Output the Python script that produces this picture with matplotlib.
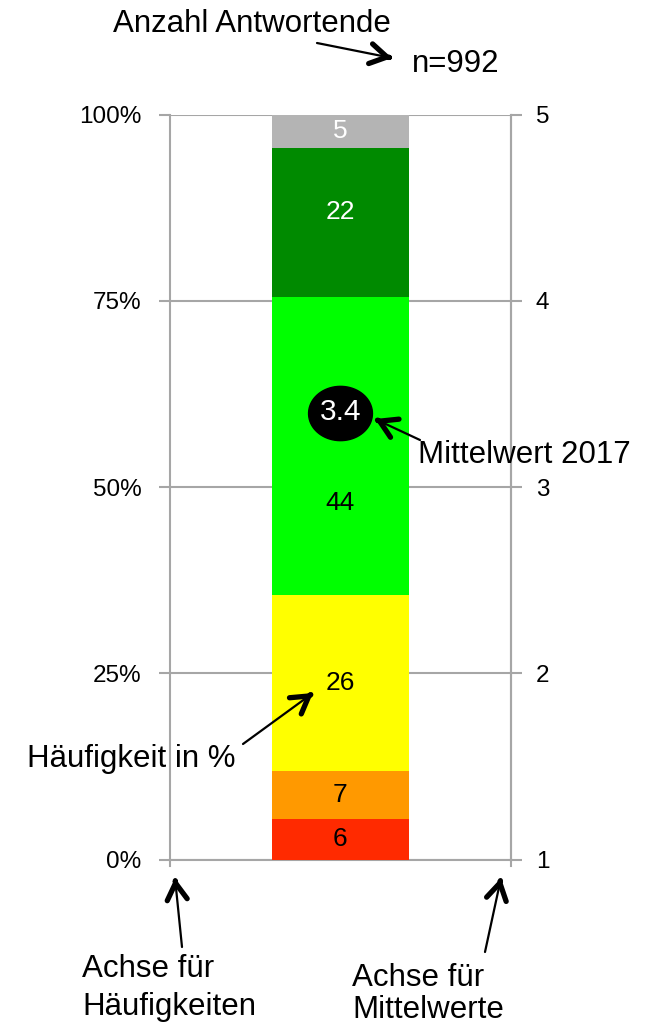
import numpy as np
import matplotlib
matplotlib.use("Agg")
import matplotlib.pyplot as plt
from matplotlib.path import Path
from matplotlib.patches import FancyArrowPatch

plt.rcParams["font.family"] = ["Liberation Sans", "DejaVu Sans"]

# data (labels as printed, bar height = share of their sum)
categories = ["1", "2", "3", "4", "5", "k.A."]
values = [6, 7, 26, 44, 22, 5]
colors = ["#FF2A00", "#FF9900", "#FFFF00", "#00FF00", "#008A00", "#B4B4B4"]
label_colors = ["black", "black", "black", "black", "white", "white"]
pct_ticks = [0, 25, 50, 75, 100]
pct_ticklabels = ["0%", "25%", "50%", "75%", "100%"]
mean_ticks = [1, 2, 3, 4, 5]
mean_value = 3.4
n_answers = 992

W, H = 652, 1024
GRID = "#A6A6A6"


def fxy(px, py):
    """pixel position (top-left origin) -> figure fraction"""
    return (px / W, 1 - py / H)


fig = plt.figure(figsize=(W / 100, H / 100), dpi=100)
ax = fig.add_axes([169.5 / W, 1 - 859.5 / H, (511 - 169.5) / W, (859.5 - 114.5) / H])

shares = np.array(values, dtype=float) / sum(values) * 100
bottoms = np.concatenate([[0], np.cumsum(shares)[:-1]])
ax.bar([0.5] * len(values), shares, bottom=bottoms, width=0.4,
       color=colors, zorder=3)

# Excel nudged a couple of labels away from the segment centre
nudge = {3: -7.6, 4: 1.45}
for i, (v, b, s) in enumerate(zip(values, bottoms, shares)):
    y = b + s / 2 + nudge.get(i, 0)
    ax.text(0.5, y, str(v), ha="center", va="center", fontsize=19,
            color=label_colors[i], zorder=5)

ax.set_xlim(0, 1)
ax.set_ylim(0, 100)
ax.set_yticks(pct_ticks)
ax.set_yticklabels(pct_ticklabels)
ax.set_xticks([])
ax.yaxis.grid(True, color=GRID, lw=1.5, zorder=0)
ax.set_axisbelow(True)
for side in ["left", "bottom", "right"]:
    ax.spines[side].set_color(GRID)
    ax.spines[side].set_linewidth(1.5)
ax.spines["top"].set_visible(False)
ax.tick_params(axis="y", length=8, width=1.5, color=GRID, labelsize=17.5, pad=12)

# small downward ticks at both ends of the category axis
for xx in (0, 1):
    ax.plot([xx, xx], [0, -0.9], color=GRID, lw=1.5, clip_on=False)

ax2 = ax.twinx()
ax2.set_ylim(1, 5)
ax2.set_yticks(mean_ticks)
ax2.set_yticklabels([str(t) for t in mean_ticks])
ax2.tick_params(axis="y", length=8, width=1.5, color=GRID, labelsize=17.5, pad=10)
for side in ["left", "bottom", "top"]:
    ax2.spines[side].set_visible(False)
ax2.spines["right"].set_color(GRID)
ax2.spines["right"].set_linewidth(1.5)

# slightly flattened circle like the Excel oval
t = np.linspace(0, 2 * np.pi, 80)
oval = Path(np.column_stack([np.cos(t), 0.85 * np.sin(t)]), closed=True)
ax2.plot(0.5, mean_value, marker=oval, markersize=46, color="black", zorder=6)
ax2.text(0.5, mean_value, f"{mean_value:.1f}", ha="center", va="center",
         fontsize=21.5, color="white", zorder=7)


def arrow(tail, tip):
    # thin shaft + heavy open head
    fig.add_artist(FancyArrowPatch(
        fxy(*tail), fxy(*tip), transform=fig.transFigure,
        arrowstyle="-", lw=1.6, color="black", shrinkA=0, shrinkB=1))
    d = np.array(tip, float) - np.array(tail, float)
    d /= np.hypot(*d)
    start = np.array(tip) - d * 3
    fig.add_artist(FancyArrowPatch(
        fxy(*start), fxy(*tip), transform=fig.transFigure,
        arrowstyle="->,head_length=0.6,head_width=0.36", lw=3.8,
        mutation_scale=20, color="black", shrinkA=0, shrinkB=0,
        capstyle="round", joinstyle="round"))


txt = dict(fontsize=22.5, color="black", va="baseline")
fig.text(*fxy(113, 32), "Anzahl Antwortende", ha="left", **txt)
fig.text(*fxy(412, 72), f"n={n_answers}", ha="left", **txt)
arrow((317, 43), (392, 58))

fig.text(*fxy(418, 463), "Mittelwert 2017", ha="left", **txt)
arrow((420, 440), (375, 419))

fig.text(*fxy(27, 767), "Häufigkeit in %", ha="left", **txt)
arrow((243, 744), (313, 693))

fig.text(*fxy(82, 977), "Achse für", ha="left", **txt)
fig.text(*fxy(82, 1015), "Häufigkeiten", ha="left", **txt)
arrow((182, 947), (175, 878))

fig.text(*fxy(352, 986), "Achse für", ha="left", **txt)
fig.text(*fxy(352, 1018), "Mittelwerte", ha="left", **txt)
arrow((485, 952), (501, 878))

fig.savefig("out.png", dpi=100)
